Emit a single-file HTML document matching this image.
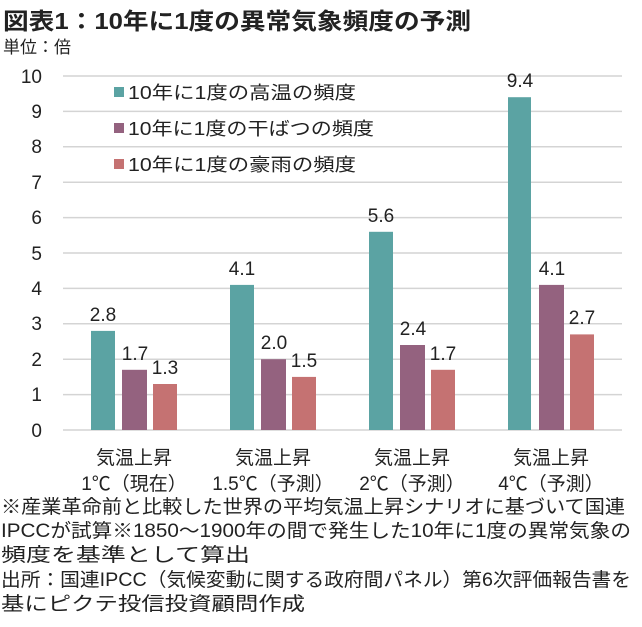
<!DOCTYPE html>
<html><head><meta charset="utf-8"><style>
body{margin:0;background:#fff;}
svg text{font-family:"Liberation Sans","Noto Sans CJK JP",sans-serif;fill:#222;}
</style></head><body>
<svg width="642" height="622" viewBox="0 0 642 622" xmlns="http://www.w3.org/2000/svg">
<text x="3" y="29" font-size="23" font-weight="bold" fill="#333" textLength="468" lengthAdjust="spacingAndGlyphs">図表1：10年に1度の異常気象頻度の予測</text>
<text x="3" y="53" font-size="17">単位：倍</text>
<g stroke="#d4d4d4" stroke-width="1.5">
<line x1="63" x2="622" y1="76" y2="76"/><line x1="63" x2="622" y1="111.4" y2="111.4"/>
<line x1="63" x2="622" y1="146.8" y2="146.8"/><line x1="63" x2="622" y1="182.2" y2="182.2"/>
<line x1="63" x2="622" y1="217.6" y2="217.6"/><line x1="63" x2="622" y1="253" y2="253"/>
<line x1="63" x2="622" y1="288.4" y2="288.4"/><line x1="63" x2="622" y1="323.8" y2="323.8"/>
<line x1="63" x2="622" y1="359.2" y2="359.2"/><line x1="63" x2="622" y1="394.6" y2="394.6"/>
<line x1="63" x2="622" y1="430" y2="430"/>
</g>
<g font-size="19" text-anchor="end">
<text x="42" y="83">10</text><text x="42" y="118">9</text><text x="42" y="153">8</text>
<text x="42" y="189">7</text><text x="42" y="224">6</text><text x="42" y="260">5</text>
<text x="42" y="295">4</text><text x="42" y="330">3</text><text x="42" y="366">2</text>
<text x="42" y="401">1</text><text x="42" y="437">0</text>
</g>
<rect x="114" y="87" width="10" height="10" fill="#5ba3a3"/>
<rect x="114" y="123" width="10" height="10" fill="#94627f"/>
<rect x="114" y="159" width="10" height="10" fill="#c57272"/>
<g font-size="18"><text x="128" y="99" textLength="228" lengthAdjust="spacingAndGlyphs">10年に1度の高温の頻度</text>
<text x="128" y="135" textLength="246" lengthAdjust="spacingAndGlyphs">10年に1度の干ばつの頻度</text>
<text x="128" y="171" textLength="228" lengthAdjust="spacingAndGlyphs">10年に1度の豪雨の頻度</text></g>
<g>
<rect x="91" y="330.9" width="24" height="99.1" fill="#5ba3a3"/>
<rect x="122" y="369.8" width="25" height="60.2" fill="#94627f"/>
<rect x="153" y="384" width="24" height="46" fill="#c57272"/>
<rect x="230" y="284.9" width="24" height="145.1" fill="#5ba3a3"/>
<rect x="261" y="359.2" width="25" height="70.8" fill="#94627f"/>
<rect x="292" y="376.9" width="24" height="53.1" fill="#c57272"/>
<rect x="369" y="231.8" width="24" height="198.2" fill="#5ba3a3"/>
<rect x="400" y="345" width="25" height="85" fill="#94627f"/>
<rect x="431" y="369.8" width="24" height="60.2" fill="#c57272"/>
<rect x="508" y="97.2" width="23" height="332.8" fill="#5ba3a3"/>
<rect x="539" y="284.9" width="25" height="145.1" fill="#94627f"/>
<rect x="570" y="334.4" width="24" height="95.6" fill="#c57272"/>
</g>
<g font-size="19" text-anchor="middle">
<text x="103" y="321">2.8</text><text x="135" y="360">1.7</text><text x="165" y="374">1.3</text>
<text x="242" y="275">4.1</text><text x="274" y="349">2.0</text><text x="304" y="367">1.5</text>
<text x="381" y="222">5.6</text><text x="413" y="335">2.4</text><text x="443" y="360">1.7</text>
<text x="520" y="87">9.4</text><text x="552" y="275">4.1</text><text x="582" y="324">2.7</text>
</g>
<g font-size="19" text-anchor="middle">
<text x="134" y="464">気温上昇</text><text x="134" y="490">1℃（現在）</text>
<text x="273" y="464">気温上昇</text><text x="273" y="490">1.5℃（予測）</text>
<text x="412" y="464">気温上昇</text><text x="412" y="490">2℃（予測）</text>
<text x="551" y="464">気温上昇</text><text x="551" y="490">4℃（予測）</text>
</g>
<g font-size="19">
<text x="1" y="513" textLength="624" lengthAdjust="spacingAndGlyphs">※産業革命前と比較した世界の平均気温上昇シナリオに基づいて国連</text>
<text x="1" y="537" textLength="630" lengthAdjust="spacingAndGlyphs">IPCCが試算※1850～1900年の間で発生した10年に1度の異常気象の</text>
<text x="1" y="561" textLength="249" lengthAdjust="spacingAndGlyphs">頻度を基準として算出</text>
<text x="1" y="586" textLength="630" lengthAdjust="spacingAndGlyphs">出所：国連IPCC（気候変動に関する政府間パネル）第6次評価報告書を</text>
<text x="1" y="610" textLength="304" lengthAdjust="spacingAndGlyphs">基にピクテ投信投資顧問作成</text>
</g>
</svg>
</body></html>
